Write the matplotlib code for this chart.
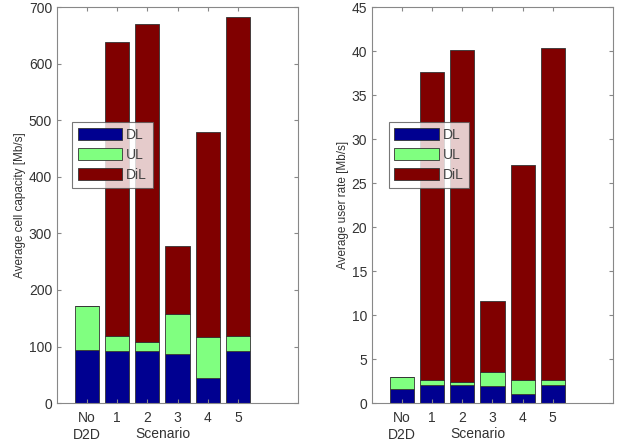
import numpy as np
import matplotlib.pyplot as plt

labels = ['No\nD2D', '1', '2', '3', '4', '5']
series = ['DL', 'UL', 'DiL']
colors = ['#000090', '#80ff80', '#800000']

# left: average cell capacity (cumulative tops)
cap_dl = [94, 93, 93, 86, 45, 93]
cap_ul = [78, 25, 15, 72, 72, 25]
cap_dil = [0, 520, 562, 120, 363, 565]

# right: average user rate
rate_dl = [1.6, 2.1, 2.1, 1.9, 1.0, 2.1]
rate_ul = [1.4, 0.5, 0.3, 1.6, 1.6, 0.5]
rate_dil = [0.0, 35.0, 37.7, 8.1, 24.5, 37.8]

plt.rcParams['font.family'] = ['Liberation Sans', 'DejaVu Sans']
fig = plt.figure(figsize=(6.23, 4.44), dpi=100)
ax1 = fig.add_axes([0.0915, 0.092, 0.387, 0.892])
ax2 = fig.add_axes([0.597, 0.092, 0.387, 0.892])

x = np.arange(1, len(labels) + 1)


def draw(ax, parts, ylim, step, ylabel, leg_anchor):
    bottom = np.zeros(len(labels))
    for name, vals, c in zip(series, parts, colors):
        ax.bar(x, vals, 0.8, bottom=bottom, color=c, edgecolor='#333333',
               linewidth=0.6, label=name)
        bottom = bottom + np.array(vals)
    ax.set_xlim(0, 8)
    ax.set_ylim(0, ylim)
    ax.set_yticks(np.arange(0, ylim + step / 2, step))
    ax.set_xticks(x)
    ax.set_xticklabels(labels, fontsize=10, color='#333333', linespacing=1.25)
    ax.tick_params(direction='in', top=True, right=True, length=3,
                   color='#888888', labelsize=10, labelcolor='#333333')
    ax.tick_params(axis='x', pad=6)
    ax.set_ylabel(ylabel, fontsize=8.5, color='#333333', labelpad=2)
    for s in ax.spines.values():
        s.set_color('#888888')
        s.set_linewidth(0.8)
    ax.text(3.5, -0.077, 'Scenario', ha='center', va='center',
            fontsize=10, color='#333333',
            transform=ax.get_xaxis_transform())
    leg = ax.legend(loc='upper left', bbox_to_anchor=leg_anchor,
                    fontsize=10, fancybox=False, handlelength=3.2,
                    handleheight=1.0, labelspacing=0.45, borderpad=0.4,
                    handletextpad=0.3, borderaxespad=0)
    leg.get_frame().set_edgecolor('#555555')
    leg.get_frame().set_linewidth(0.8)
    for t in leg.get_texts():
        t.set_color('#444444')


draw(ax1, [cap_dl, cap_ul, cap_dil], 700, 100,
     'Average cell capacity [Mb/s]', (0.062, 0.71))
draw(ax2, [rate_dl, rate_ul, rate_dil], 45, 5,
     'Average user rate [Mb/s]', (0.07, 0.71))

fig.savefig('out.png', dpi=100)
